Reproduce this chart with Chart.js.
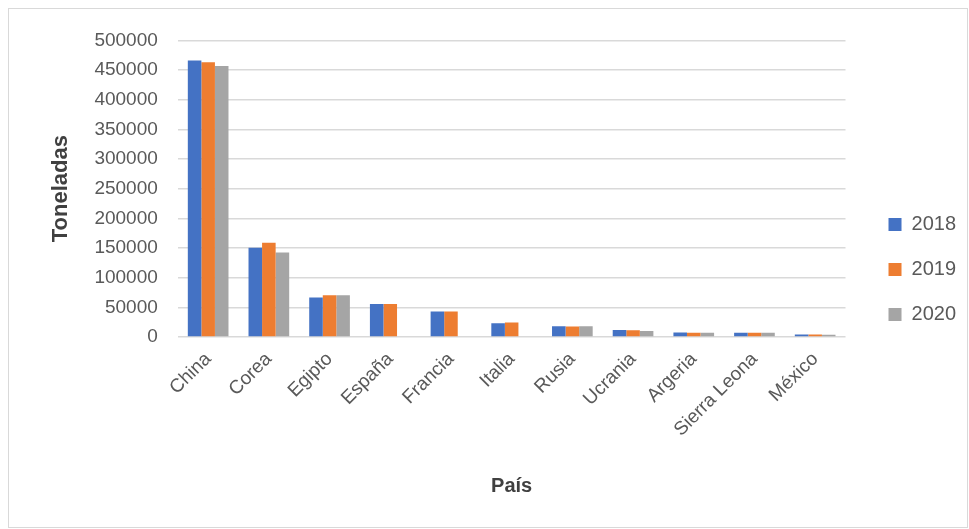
<!DOCTYPE html>
<html>
<head>
<meta charset="utf-8">
<script src="https://cdn.jsdelivr.net/npm/chart.js@4"></script>
<style>
  html, body { margin: 0; padding: 0; background: #fff; }
  #box { position: absolute; left: 8px; top: 8px; width: 960px; height: 520px; border: 1px solid #d9d9d9; box-sizing: border-box; }
  #wrap { position: absolute; left: 0; top: 0; width: 959px; height: 519px; }
</style>
</head>
<body>
<div id="box"><div id="wrap"><canvas id="bChart"></canvas></div></div>
<script>
// Datos
var paises = ['China', 'Corea', 'Egipto', 'España', 'Francia', 'Italia', 'Rusia',
              'Ucrania', 'Argeria', 'Sierra Leona', 'México'];
var anios = ['2018', '2019', '2020'];
var t2018 = [466000, 150500, 66500, 55500, 43000, 23000, 18000, 11800, 7300, 7200, 4000];
var t2019 = [463000, 159000, 70500, 55500, 43000, 24500, 17500, 11300, 7200, 7100, 4000];
var t2020 = [457000, 142500, 70500, 0, 0, 0, 18000, 10200, 7000, 7000, 3800];
var colores = ['#4472c4', '#ed7d31', '#a5a5a5'];

var textColor = '#595959';
var fuente = 'Liberation Sans';

// separa la leyenda del area del grafico
var legendGap = 18;
var legendDy = 5;
var legendShift = {
    id: 'legendShift',
    beforeLayout: function(chart) {
        var lg = chart.legend;
        if (lg && !lg._patched) {
            var fit = lg.fit;
            lg.fit = function() {
                fit.call(this);
                this.width += legendGap;
            };
            lg._patched = true;
        }
    },
    afterLayout: function(chart) {
        if (chart.legend) {
            chart.legend.left += legendGap;
            chart.legend.top += legendDy;
            chart.legend.bottom += legendDy;
        }
    }
};

window.onload = function() {
    var ctx = document.getElementById('bChart').getContext('2d');
    var bChart = new Chart(ctx, {
        type: 'bar',
        data: {
            labels: paises,
            datasets: [
                { label: anios[0], data: t2018, backgroundColor: colores[0] },
                { label: anios[1], data: t2019, backgroundColor: colores[1] },
                { label: anios[2], data: t2020, backgroundColor: colores[2] }
            ]
        },
        plugins: [legendShift],
        options: {
            responsive: true,
            maintainAspectRatio: false,
            animation: false,
            datasets: {
                bar: { categoryPercentage: 0.67, barPercentage: 1.0 }
            },
            layout: {
                padding: { left: 35, right: 2, top: 20, bottom: 28 }
            },
            plugins: {
                tooltip: { enabled: false },
                legend: {
                    position: 'right',
                    labels: {
                        boxWidth: 13,
                        boxHeight: 13,
                        padding: 25,
                        color: textColor,
                        font: { family: fuente, size: 20 }
                    }
                }
            },
            scales: {
                x: {
                    grid: { display: false },
                    border: { display: false },
                    ticks: {
                        color: textColor,
                        maxRotation: 45,
                        minRotation: 45,
                        font: { family: fuente, size: 19 }
                    },
                    title: {
                        display: true,
                        text: 'País',
                        color: '#404040',
                        padding: { top: 30, bottom: 2 },
                        font: { family: fuente, size: 20, weight: 'bold' }
                    }
                },
                y: {
                    min: 0,
                    max: 500000,
                    grid: { color: '#d9d9d9', lineWidth: 1.5, drawTicks: false },
                    border: { display: false },
                    ticks: {
                        stepSize: 50000,
                        padding: 20,
                        color: textColor,
                        font: { family: fuente, size: 19 },
                        callback: function(value) { return String(value); }
                    },
                    title: {
                        display: true,
                        text: 'Toneladas',
                        color: '#404040',
                        padding: { bottom: 0 },
                        font: { family: fuente, size: 22, weight: 'bold' }
                    }
                }
            }
        }
    });
};
</script>
</body>
</html>
